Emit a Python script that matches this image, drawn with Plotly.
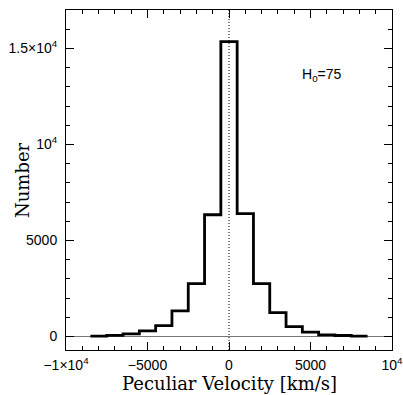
import plotly.graph_objects as go

bin_edges = [-8500, -7500, -6500, -5500, -4500, -3500, -2500, -1500, -500,
             500, 1500, 2500, 3500, 4500, 5500, 6500, 7500, 8500]
counts = [25, 60, 140, 300, 570, 1340, 2760, 6340, 15350,
          6400, 2760, 1250, 520, 230, 90, 55, 20]

x_tickvals = [-10000, -5000, 0, 5000, 10000]
x_ticktext = ["\u22121\u00d710<sup>4</sup>", "\u22125000", "0", "5000", "10<sup>4</sup>"]
y_tickvals = [0, 5000, 10000, 15000]
y_ticktext = ["0", "5000", "10<sup>4</sup>", "1.5\u00d710<sup>4</sup>"]

xs = bin_edges
ys = counts + [counts[-1]]

fig = go.Figure()
fig.add_trace(go.Scatter(x=xs, y=ys, mode="lines", line_shape="hv",
                         line=dict(color="black", width=2.8), showlegend=False,
                         hoverinfo="skip"))

fig.add_shape(type="line", xref="x", yref="paper", x0=0, x1=0, y0=0, y1=1,
              line=dict(color="black", width=1, dash="1px,2px"))

fig.add_annotation(x=5700, y=13600, xref="x", yref="y",
                   text="H<sub>0</sub>=75", showarrow=False,
                   font=dict(family="Liberation Sans", size=14, color="black"))

title_font = dict(family="DejaVu Serif", size=18, color="black")
fig.add_annotation(x=0.5, y=0, xref="paper", yref="paper", yshift=-33,
                   xanchor="center", yanchor="middle", showarrow=False, borderpad=0,
                   text="Peculiar Velocity [km/s]", font=title_font)
fig.add_annotation(x=0, y=0.5, xref="paper", yref="paper", xshift=-44,
                   xanchor="center", yanchor="middle", showarrow=False, textangle=-90,
                   text="Number", font=title_font)

tick_font = dict(family="Liberation Sans", size=14, color="black")

fig.update_xaxes(range=[-10000, 10000], tickmode="array", tickvals=x_tickvals,
                 ticktext=x_ticktext, ticks="inside", ticklen=8, tickwidth=1,
                 tickcolor="black", showline=True, linecolor="black", linewidth=1,
                 mirror="allticks", showgrid=False, zeroline=False,
                 minor=dict(dtick=1000, tick0=0, ticks="inside", ticklen=4,
                            tickcolor="black", showgrid=False),
                 tickfont=tick_font, ticklabelstandoff=2, automargin=False,
                 ticklabeloverflow="allow")
fig.update_yaxes(range=[-700, 17000], tickmode="array", tickvals=y_tickvals,
                 ticktext=y_ticktext, ticks="inside", ticklen=8, tickwidth=1,
                 tickcolor="black", showline=True, linecolor="black", linewidth=1,
                 mirror="allticks", showgrid=False, zeroline=True,
                 zerolinecolor="#777777", zerolinewidth=1,
                 minor=dict(dtick=1000, tick0=0, ticks="inside", ticklen=4,
                            tickcolor="black", showgrid=False),
                 tickfont=tick_font, ticklabelstandoff=5, automargin=False,
                 ticklabeloverflow="allow")

fig.update_layout(width=403, height=395, margin=dict(l=66, r=11, t=10, b=45),
                  plot_bgcolor="white", paper_bgcolor="white")

fig.write_html("out.html")
